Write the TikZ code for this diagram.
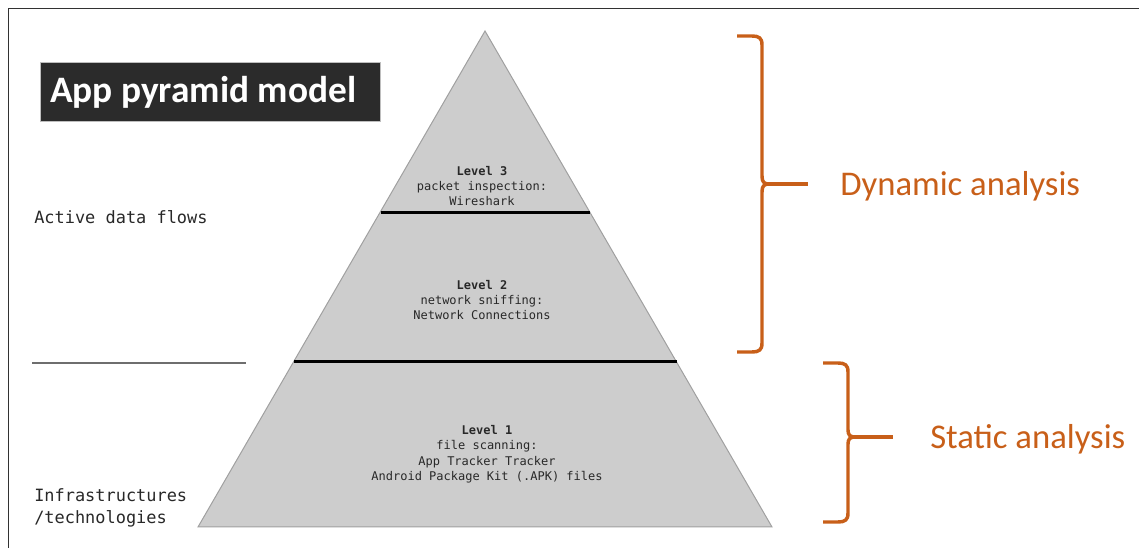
\documentclass[tikz,border=0pt]{standalone}
\usepackage{fontspec}
\usepackage{tikz}
\setmainfont{Carlito}
\newfontfamily\codefont{DejaVu Sans Mono}
\usetikzlibrary{calc}

\begin{document}
\begin{tikzpicture}[x=0.75pt,y=0.75pt,yscale=-1,xscale=1,
    levellabel/.style={inner sep=0.75pt,align=center,font=\codefont\fontsize{9}{11.6}\selectfont,color={rgb, 255:red, 40; green, 40; blue, 40 }},
    sidelabel/.style={anchor=west,inner sep=0.75pt,align=left,font=\codefont\fontsize{12.7}{16.5}\selectfont,color={rgb, 255:red, 40; green, 40; blue, 40 }},
    bracket/.style={color={rgb, 255:red, 200; green, 95; blue, 25 },draw opacity=1,line width=2.6,line join=round},
    analysis/.style={anchor=west,inner sep=0.75pt,font=\fontsize{26}{30}\selectfont,color={rgb, 255:red, 200; green, 95; blue, 25 }}]
    \useasboundingbox (0,0) rectangle (1139,548);
    %Frame
    \draw [color={rgb, 255:red, 50; green, 50; blue, 50 },line width=1.1]  (8.5,548) -- (8.5,8.5) -- (1139,8.5) ;
    %Title box
    \draw [color={rgb, 255:red, 190; green, 190; blue, 190 },fill={rgb, 255:red, 43; green, 43; blue, 43 },line width=0.6]  (40,62) rectangle (380,121) ;
    \node (title) [anchor=west,inner sep=0,text=white,font=\bfseries\fontsize{28}{32}\selectfont] at (50,92) {App pyramid model};
    
    %Shape: Triangle
    \draw [color={rgb, 255:red, 160; green, 160; blue, 160 },fill={rgb, 255:red, 205; green, 205; blue, 205 },line width=0.75]  (485,31) -- (772,527) -- (198,527) -- cycle ;
    %Straight Lines
    \draw [line width=2.25]  (381,213) -- (590,213) ;
    \draw [line width=2.25]  (294,362) -- (677,362) ;
    \draw [color={rgb, 255:red, 110; green, 110; blue, 110 },line width=1.5]  (32,363) -- (246,363) ;
    
    % Text Node
    \node (lvlthree) [levellabel] at (482,186) {\textbf{Level 3}\\packet inspection:\\Wireshark};
    \node (lvltwo) [levellabel] at (482,300) {\textbf{Level 2}\\network sniffing:\\Network Connections};
    \node (lvlone) [levellabel] at (487,454) {\textbf{Level 1}\\file scanning:\\App Tracker Tracker\\Android Package Kit (.APK) files};
    \node (flows) [sidelabel] at (33,217) {Active data flows};
    \node (infra) [sidelabel] at (33,508) {Infrastructures\\/technologies};
    
    %Curve Lines
    \draw [bracket]  (737,36) -- (752,36) .. controls (759,36) and (762,38) .. (762,45) -- (762,176) .. controls (762,182) and (764,184) .. (769,184) .. controls (764,184) and (762,186) .. (762,192) -- (762,343) .. controls (762,350) and (759,352) .. (752,352) -- (737,352) ;
    \draw [bracket]  (769,184) -- (808,184) ;
    \draw [bracket]  (823,363) -- (838,363) .. controls (845,363) and (848,365) .. (848,372) -- (848,430) .. controls (848,435) and (850,437) .. (855,437) .. controls (850,437) and (848,439) .. (848,444) -- (848,513) .. controls (848,520) and (845,522) .. (838,522) -- (823,522) ;
    \draw [bracket]  (855,437) -- (893,437) ;
    \node (dynamic) [analysis] at (839,186) {Dynamic analysis};
    \node (static) [analysis] at (929,439) {Static analysis};
\end{tikzpicture}
\end{document}
